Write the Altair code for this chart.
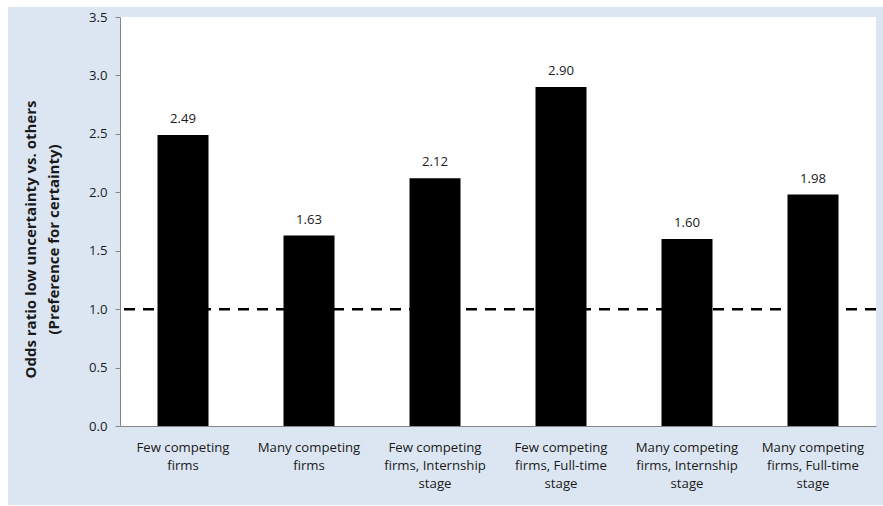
import altair as alt
import pandas as pd

# Odds ratios for preferring the low-uncertainty option, by condition
categories = [
    "Few competing|firms",
    "Many competing|firms",
    "Few competing|firms, Internship|stage",
    "Few competing|firms, Full-time|stage",
    "Many competing|firms, Internship|stage",
    "Many competing|firms, Full-time|stage",
]
odds_ratios = [2.49, 1.63, 2.12, 2.90, 1.60, 1.98]
reference_level = [1.0]

df = pd.DataFrame({"cat": categories, "val": odds_ratios})
df["label"] = df["val"].map(lambda v: f"{v:.2f}")
ref_df = pd.DataFrame({"ref": reference_level})

W, H = 756, 409
FONT = "Open Sans"
FS = 13.2
TXT = "#1a1a1a"

x_enc = alt.X(
    "cat:N",
    sort=categories,
    title=None,
    scale=alt.Scale(paddingInner=0.595, paddingOuter=0.2975),
    axis=alt.Axis(
        labelExpr="split(datum.label, '|')",
        labelAngle=0,
        labelFont=FONT,
        labelFontSize=FS,
        labelColor=TXT,
        labelLineHeight=18,
        labelPadding=15,
        ticks=False,
        domainColor="#868686",
        zindex=1,
    ),
)
y_scale = alt.Scale(domain=[0, 3.5], nice=False)

# Light blue chart-area panel and white plot area
panel = alt.Chart(ref_df).mark_rect(color="#dce6f2", clip=False).encode(
    x=alt.value(-112), x2=alt.value(W + 7), y=alt.value(-10), y2=alt.value(H + 79)
)
plot_bg = alt.Chart(ref_df).mark_rect(color="white").encode(
    x=alt.value(0), x2=alt.value(W), y=alt.value(0), y2=alt.value(H)
)

bars = alt.Chart(df).mark_bar(color="black", size=51).encode(
    x=x_enc,
    y=alt.Y(
        "val:Q",
        scale=y_scale,
        title=["Odds ratio low uncertainty vs. others", "(Preference for certainty)"],
        axis=alt.Axis(
            values=[0, 0.5, 1.0, 1.5, 2.0, 2.5, 3.0, 3.5],
            format=".1f",
            grid=False,
            tickSize=5,
            tickColor="#868686",
            domainColor="#868686",
            labelFont=FONT,
            labelFontSize=FS,
            labelColor=TXT,
            labelPadding=8,
            titleFont=FONT,
            titleFontSize=15,
            titleFontWeight="bold",
            titleColor=TXT,
            titleLineHeight=23,
            titlePadding=27,
            titleY=222,
            zindex=1,
        ),
    ),
)

labels = alt.Chart(df).mark_text(
    dy=-9, font=FONT, fontSize=FS, color=TXT, baseline="bottom"
).encode(
    x=alt.X("cat:N", sort=categories),
    y=alt.Y("val:Q", scale=y_scale),
    text="label:N",
)

ref_line = alt.Chart(ref_df).mark_rule(
    color="black", strokeWidth=2.5, strokeDash=[11, 8]
).encode(y=alt.Y("ref:Q", scale=y_scale))

chart = (
    alt.layer(panel, plot_bg, bars, labels, ref_line)
    .properties(
        width=W,
        height=H,
        autosize=alt.AutoSizeParams(type="none"),
        padding={"left": 120, "top": 17, "right": 7, "bottom": 80},
    )
    .configure(background="white")
    .configure_view(stroke=None)
)

chart.save("out.html", embed_options={"renderer": "svg", "actions": False})
